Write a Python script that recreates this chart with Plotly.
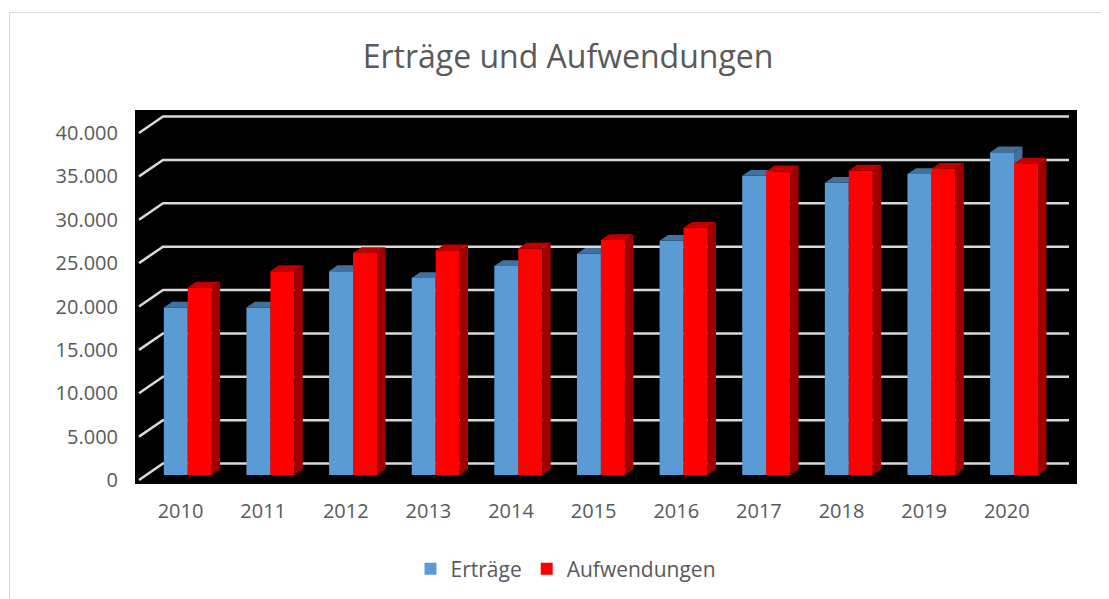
import plotly.graph_objects as go

# ---------------- data ----------------
years = ["2010", "2011", "2012", "2013", "2014", "2015", "2016", "2017", "2018", "2019", "2020"]
ertraege = [19300, 19300, 23500, 22700, 24100, 25500, 27000, 34500, 33700, 34700, 37200]
aufwendungen = [21600, 23500, 25600, 25900, 26100, 27100, 28500, 35000, 35100, 35300, 35900]
y_ticks = [0, 5000, 10000, 15000, 20000, 25000, 30000, 35000, 40000]

# ---------------- page / layout geometry ----------------
PAGE_W, PAGE_H = 1109, 599
OFF = 8                      # default body margin of the html page
W, H = PAGE_W - OFF, PAGE_H - OFF
PLOT_L, PLOT_R, PLOT_T, PLOT_B = 135, 1077, 110, 484   # target page pixels of plot area
ML, MR, MT, MB = PLOT_L - OFF, OFF + W - PLOT_R, PLOT_T - OFF, OFF + H - PLOT_B
PW, PH = PLOT_R - PLOT_L, PLOT_B - PLOT_T

# pseudo-3D (oblique projection)
X_ORIGIN_PX = 180.5          # page x of first category (front edge)
Y_ORIGIN_PX = 480            # page y of value 0 (front edge)
PX_PER_CAT = 82.63
PX_PER_UNIT = 0.008675
DEPTH_PX_X, DEPTH_PX_Y = 24.0, 16.5
DX_FULL = DEPTH_PX_X / PX_PER_CAT
DY_FULL = DEPTH_PX_Y / PX_PER_UNIT
Z_BAR_FRONT = 0.303
Z_BAR_DEPTH = 0.35
BAR_W = 0.29

x_range = [(PLOT_L - X_ORIGIN_PX) / PX_PER_CAT, (PLOT_R - X_ORIGIN_PX) / PX_PER_CAT]
y_range = [(Y_ORIGIN_PX - PLOT_B) / PX_PER_UNIT, (Y_ORIGIN_PX - PLOT_T) / PX_PER_UNIT]

bar_dx0 = Z_BAR_FRONT * DX_FULL
bar_base = Z_BAR_FRONT * DY_FULL
bdx = Z_BAR_DEPTH * DX_FULL
bdy = Z_BAR_DEPTH * DY_FULL

GRID_X0 = (139 - X_ORIGIN_PX) / PX_PER_CAT
GRID_X1 = (1069 - X_ORIGIN_PX) / PX_PER_CAT


def px_to_paper_x(px):
    return (px - PLOT_L) / PW


def px_to_paper_y(py):
    return (PLOT_B - py) / PH


fig = go.Figure()

# gridlines: front-left slanted segment + back wall line
gx, gy = [], []
for v in y_ticks:
    gx += [GRID_X0, GRID_X0 + DX_FULL, GRID_X1, None]
    gy += [v, v + DY_FULL, v + DY_FULL, None]
fig.add_trace(go.Scatter(x=gx, y=gy, mode="lines", line=dict(color="#d9d9d9", width=2.5),
                         hoverinfo="skip", showlegend=False, xaxis="x", yaxis="y"))


def add_series(values, name, off, c_front, c_top, c_side, xa, ya):
    xs = list(range(len(values)))
    fig.add_trace(go.Bar(x=xs, y=values, base=[bar_base] * len(values), name=name,
                         width=BAR_W, offset=off + bar_dx0,
                         marker=dict(color=c_front, line=dict(width=0)),
                         xaxis=xa, yaxis=ya, customdata=years,
                         hovertemplate=name + " %{customdata}: %{y:,}<extra></extra>"))
    tx, ty, sx, sy = [], [], [], []
    for i, v in enumerate(values):
        x0 = i + off + bar_dx0
        x1 = x0 + BAR_W
        yt = bar_base + v
        tx += [x0, x1, x1 + bdx, x0 + bdx, x0, None]
        ty += [yt, yt, yt + bdy, yt + bdy, yt, None]
        sx += [x1, x1, x1 + bdx, x1 + bdx, x1, None]
        sy += [bar_base, yt, yt + bdy, bar_base + bdy, bar_base, None]
    fig.add_trace(go.Scatter(x=tx, y=ty, mode="lines", fill="toself", fillcolor=c_top,
                             line=dict(width=0, color=c_top), hoverinfo="skip", showlegend=False,
                             xaxis=xa, yaxis=ya))
    fig.add_trace(go.Scatter(x=sx, y=sy, mode="lines", fill="toself", fillcolor=c_side,
                             line=dict(width=0, color=c_side), hoverinfo="skip", showlegend=False,
                             xaxis=xa, yaxis=ya))


add_series(ertraege, "Erträge", -BAR_W, "#5b9bd5", "#41719c", "#41719c", "x2", "y2")
add_series(aufwendungen, "Aufwendungen", 0.0, "#ff0000", "#c00000", "#a00000", "x3", "y3")

FONT = "Open Sans"
GREY = "#595959"
fig.update_layout(
    width=W, height=H,
    margin=dict(l=ML, r=MR, t=MT, b=MB, autoexpand=False),
    paper_bgcolor="white", plot_bgcolor="black",
    separators=",.",
    font=dict(family=FONT, color=GREY, size=20),
    title=dict(text="Erträge und Aufwendungen", x=(568 - OFF) / W, xref="container", xanchor="center",
               y=1 - (57 - OFF) / H, yref="container", yanchor="middle",
               font=dict(family=FONT, size=32, color=GREY)),
    showlegend=True,
    legend=dict(orientation="h", xanchor="center", x=px_to_paper_x(566),
                yanchor="middle", y=px_to_paper_y(569),
                font=dict(family=FONT, size=21, color=GREY), bgcolor="rgba(0,0,0,0)",
                traceorder="normal"),
    barmode="overlay",
    xaxis=dict(range=x_range, tickmode="array", tickvals=list(range(len(years))), ticktext=years,
               showgrid=False, zeroline=False, showline=False, ticks="", ticklabelstandoff=13,
               tickfont=dict(family=FONT, size=20, color=GREY), fixedrange=True),
    yaxis=dict(range=y_range, tickmode="array", tickvals=y_ticks, tickformat=",d",
               showgrid=False, zeroline=False, showline=False, ticks="", ticklabelstandoff=16,
               tickfont=dict(family=FONT, size=20, color=GREY), fixedrange=True),
    xaxis2=dict(range=x_range, visible=False, fixedrange=True, overlaying="x"),
    yaxis2=dict(range=y_range, visible=False, fixedrange=True, overlaying="y"),
    xaxis3=dict(range=x_range, visible=False, fixedrange=True, overlaying="x"),
    yaxis3=dict(range=y_range, visible=False, fixedrange=True, overlaying="y"),
    shapes=[dict(type="rect", xref="paper", yref="paper",
                 x0=px_to_paper_x(9.5), x1=px_to_paper_x(PAGE_W + 5),
                 y0=px_to_paper_y(PAGE_H + 5), y1=px_to_paper_y(12.5),
                 line=dict(color="#d9d9d9", width=1), fillcolor="rgba(0,0,0,0)", layer="below")],
)

fig.write_html("out.html")
